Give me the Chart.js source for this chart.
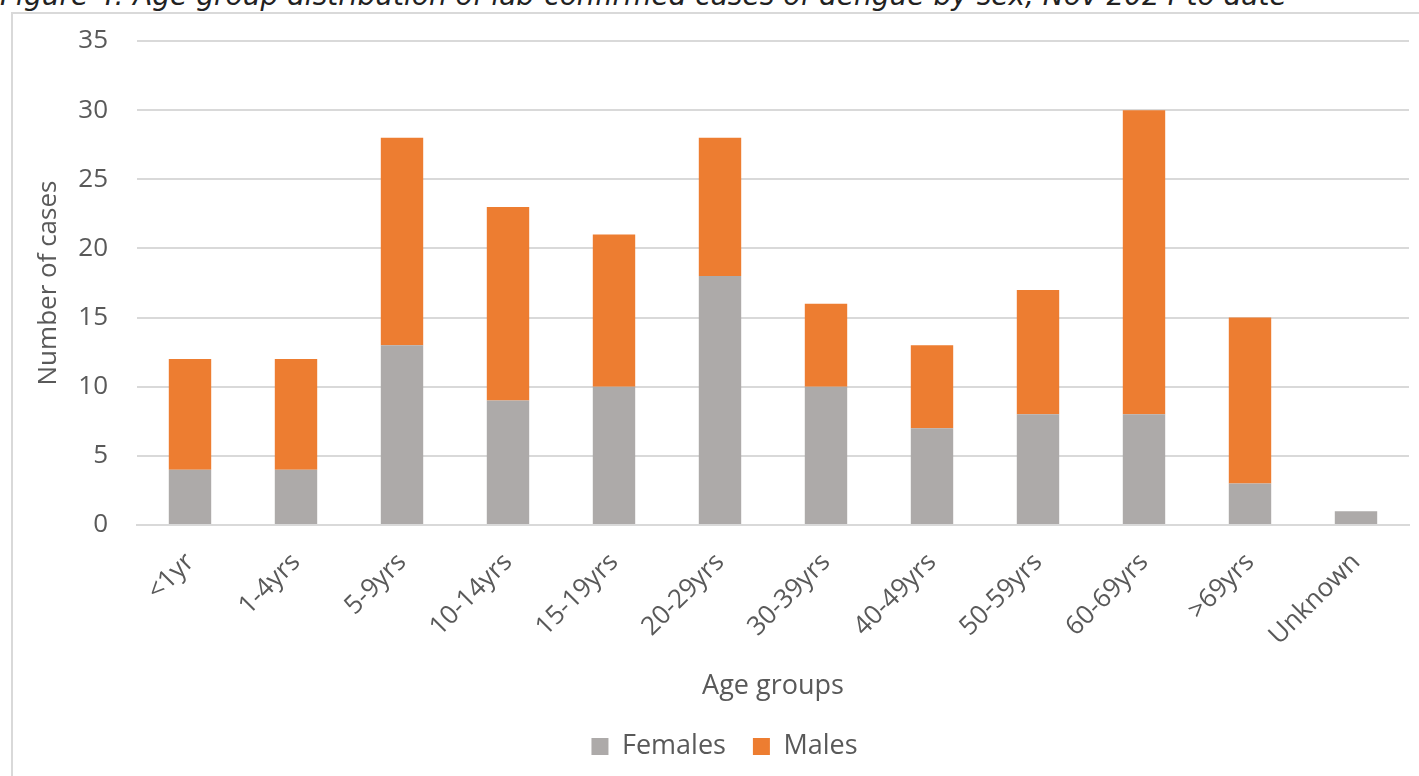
<!DOCTYPE html>
<html>
<head>
<meta charset="utf-8">
<script src="https://cdn.jsdelivr.net/npm/chart.js@4"></script>
<style>
    html, body { margin: 0; padding: 0; background: #fff; overflow: hidden; }
    #caption {
        position: absolute; left: 0; top: -18px;
        font-family: 'DejaVu Sans', sans-serif; font-style: italic;
        font-size: 28px; line-height: 28px; color: #222; white-space: nowrap;
    }
    #frame {
        position: absolute; left: 11px; top: 12px; width: 1420px; height: 780px;
        border: 2px solid #d9d9d9; box-sizing: border-box;
    }
    #chartWrapper { position: absolute; left: 0; top: 0; width: 1419px; height: 776px; }
</style>
</head>
<body>
<div id="caption">Figure 4: Age group distribution of lab-confirmed cases of dengue by sex, Nov 2024 to date</div>
<div id="frame"></div>
<div id="chartWrapper"><canvas id="ageChart"></canvas></div>
<script>
const ageGroups = ['<1yr', '1-4yrs', '5-9yrs', '10-14yrs', '15-19yrs', '20-29yrs',
    '30-39yrs', '40-49yrs', '50-59yrs', '60-69yrs', '>69yrs', 'Unknown'];
const females = [4, 4, 13, 9, 10, 18, 10, 7, 8, 8, 3, 1];
const males = [8, 8, 15, 14, 11, 10, 6, 6, 9, 22, 12, 0];
const yTicks = [0, 5, 10, 15, 20, 25, 30, 35];

const textColor = '#595959';
const font = 'Open Sans';

const ctx = document.getElementById('ageChart').getContext('2d');

const ageChart = new Chart(ctx, {
    type: 'bar',
    data: {
        labels: ageGroups,
        datasets: [
            {
                label: 'Females',
                data: females,
                backgroundColor: '#adaaa9',
                barPercentage: 0.4,
                categoryPercentage: 1
            },
            {
                label: 'Males',
                data: males,
                backgroundColor: '#ed7d31',
                barPercentage: 0.4,
                categoryPercentage: 1
            }
        ]
    },
    options: {
        responsive: true,
        maintainAspectRatio: false,
        animation: false,
        layout: {
            // left padding only pushes the legend over to where it sits in the original
            padding: { top: 41, right: 10, bottom: 6, left: 40 }
        },
        plugins: {
            legend: {
                position: 'bottom',
                labels: {
                    color: textColor,
                    font: { family: font, size: 27 },
                    boxWidth: 17,
                    boxHeight: 17,
                    padding: 27
                }
            },
            tooltip: { enabled: false }
        },
        scales: {
            x: {
                stacked: true,
                grid: { display: false, drawTicks: false },
                border: { color: '#d9d9d9', width: 2 },
                ticks: {
                    color: textColor,
                    font: { family: font, size: 26 },
                    maxRotation: 45,
                    minRotation: 45,
                    padding: 22
                },
                title: {
                    display: true,
                    text: 'Age groups',
                    color: textColor,
                    font: { family: font, size: 27 },
                    padding: { top: 0, bottom: 3 }
                },
                afterFit: function (scale) {
                    scale.height = 181;
                }
            },
            y: {
                stacked: true,
                min: 0,
                max: 35,
                grid: { color: '#d9d9d9', lineWidth: 2, drawTicks: false },
                border: { display: false },
                afterBuildTicks: function (scale) {
                    scale.ticks = yTicks.map(v => ({ value: v }));
                },
                ticks: {
                    color: textColor,
                    font: { family: font, size: 26, lineHeight: 0.9 },
                    padding: 29
                },
                title: {
                    display: true,
                    text: 'Number of cases',
                    color: textColor,
                    font: { family: font, size: 26 },
                    padding: { top: -7, bottom: 0 }
                },
                afterFit: function (scale) {
                    scale.width = 97;
                }
            }
        }
    }
});
</script>
</body>
</html>
